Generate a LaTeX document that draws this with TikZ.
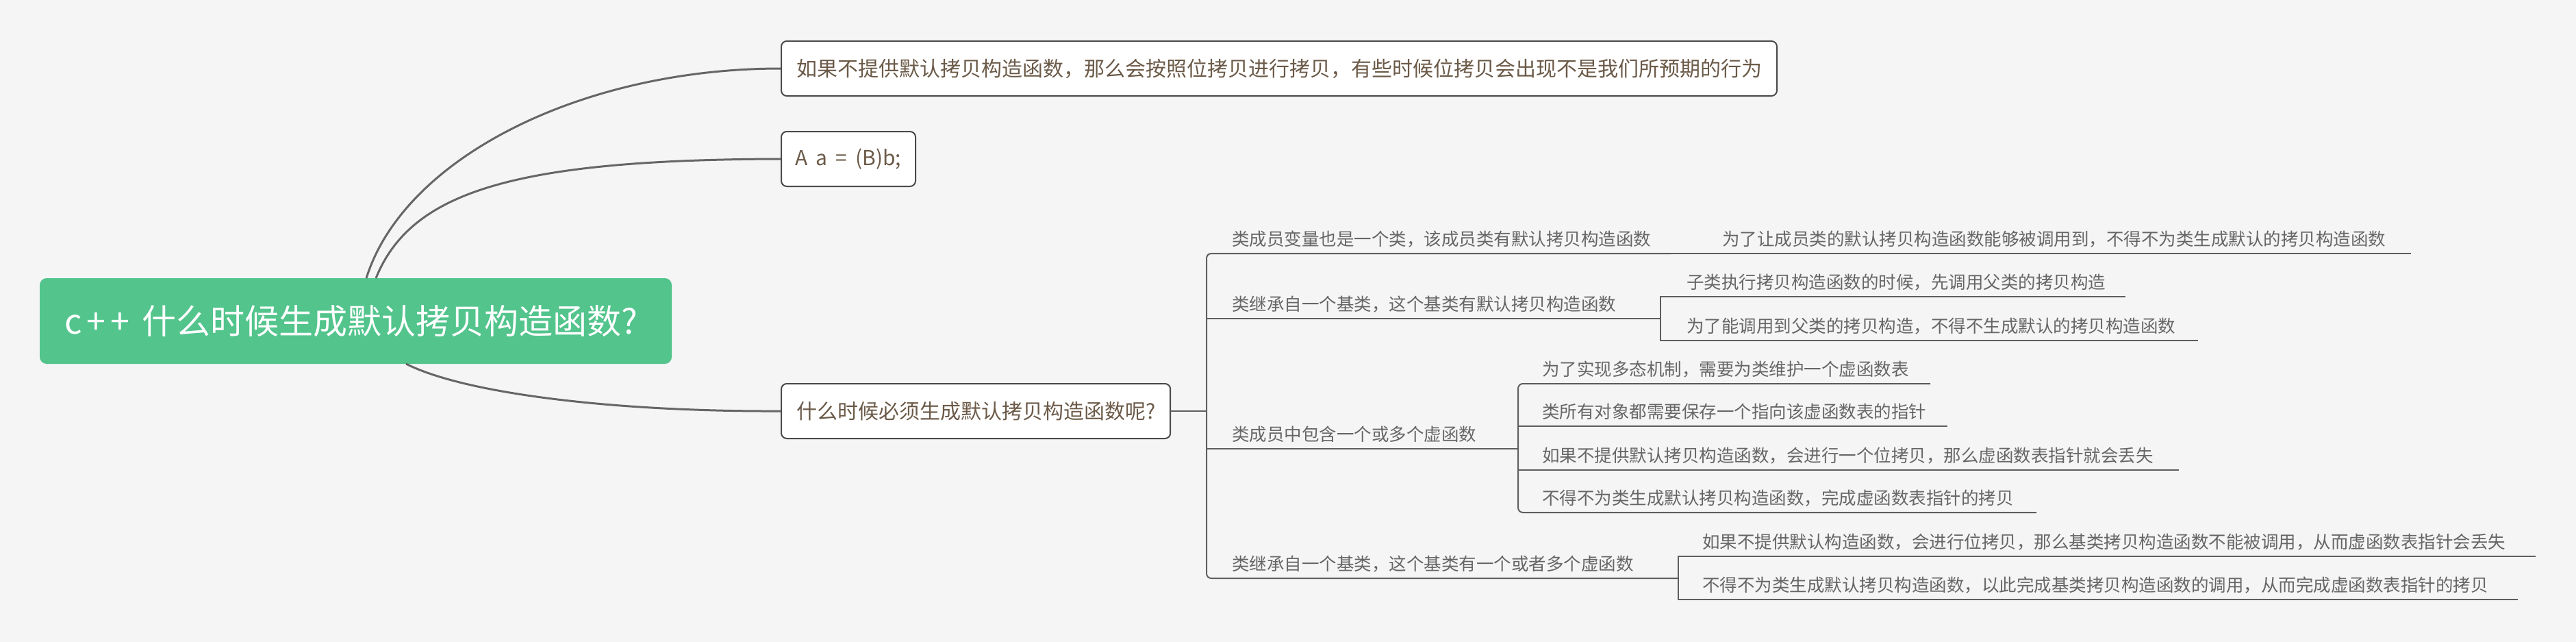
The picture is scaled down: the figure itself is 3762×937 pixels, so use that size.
\documentclass[tikz,border=0pt]{standalone}
\usepackage{fontspec}
\setmainfont{Noto Sans CJK SC}
\definecolor{bgc}{HTML}{F5F5F5}
\definecolor{linec}{HTML}{5E5E5E}
\definecolor{curvec}{HTML}{666666}
\definecolor{itemc}{HTML}{666666}
\definecolor{boxtc}{HTML}{6B5A48}
\definecolor{boxbc}{HTML}{4A4A4A}
\definecolor{rootc}{HTML}{52C48C}
\tikzset{
  rootbox/.style={fill=rootc, rounded corners=10pt, text=white, minimum width=923pt, minimum height=125pt, inner sep=0pt, font=\fontsize{50}{58}\selectfont},
  topicbox/.style={draw=boxbc, line width=2pt, fill=white, rounded corners=8pt, text=boxtc, inner xsep=22pt, inner ysep=0pt, minimum height=80pt, anchor=west, font=\fontsize{30}{36}\selectfont},
  itemtext/.style={inner sep=0pt, anchor=base west, text=itemc, font=\fontsize{25.5}{30}\selectfont},
  curve/.style={draw=curvec, line width=3pt},
  ul/.style={draw=linec, line width=2pt},
}
\begin{document}
\begin{tikzpicture}[x=1pt,y=-1pt]
\useasboundingbox (0,0) rectangle (3762,937);
\fill[bgc] (0,0) rectangle (3762,937);

% root and first-level topics
\node[rootbox] (root) at (519.5,468.5) {c\kern7pt+\kern7pt+\kern18pt 什么时候生成默认拷贝构造函数?\kern14pt};
\node[topicbox] (t1) at (1140,100) {如果不提供默认拷贝构造函数，那么会按照位拷贝进行拷贝，有些时候位拷贝会出现不是我们所预期的行为};
\node[topicbox, inner xsep=0pt, minimum width=196pt] (t2) at (1140,232) {A\hspace{12pt}a\hspace{12pt}=\hspace{12pt}(B)b;};
\node[topicbox] (t3) at (1140,600) {什么时候必须生成默认拷贝构造函数呢?};

\coordinate (r1) at (535,406);
\coordinate (r2) at (549,406);
\coordinate (r3) at (593,531);
\draw[curve] (r1) .. controls (590,230) and (850,100) .. (t1.west);
\draw[curve] (r2) .. controls (600,280) and (750,233) .. (t2.west);
\draw[curve] (r3) .. controls (680,575) and (900,601) .. (t3.west);

% second level
\node[itemtext] (a) at (1799,358) {类成员变量也是一个类，该成员类有默认拷贝构造函数};
\node[itemtext] (b) at (1799,453) {类继承自一个基类，这个基类有默认拷贝构造函数};
\node[itemtext] (c) at (1799,643) {类成员中包含一个或多个虚函数};
\node[itemtext] (d) at (1799,832) {类继承自一个基类，这个基类有一个或者多个虚函数};

% third level
\node[itemtext] (a1) at (2515,358) {为了让成员类的默认拷贝构造函数能够被调用到，不得不为类生成默认的拷贝构造函数};
\node[itemtext] (b1) at (2463,421) {子类执行拷贝构造函数的时候，先调用父类的拷贝构造};
\node[itemtext] (b2) at (2463,485) {为了能调用到父类的拷贝构造，不得不生成默认的拷贝构造函数};
\node[itemtext] (c1) at (2252,548) {为了实现多态机制，需要为类维护一个虚函数表};
\node[itemtext] (c2) at (2252,610) {类所有对象都需要保存一个指向该虚函数表的指针};
\node[itemtext] (c3) at (2252,674) {如果不提供默认拷贝构造函数，会进行一个位拷贝，那么虚函数表指针就会丢失};
\node[itemtext] (c4) at (2252,736) {不得不为类生成默认拷贝构造函数，完成虚函数表指针的拷贝};
\node[itemtext] (d1) at (2486,800) {如果不提供默认构造函数，会进行位拷贝，那么基类拷贝构造函数不能被调用，从而虚函数表指针会丢失};
\node[itemtext] (d2) at (2486,863) {不得不为类生成默认拷贝构造函数，以此完成基类拷贝构造函数的调用，从而完成虚函数表指针的拷贝};

% underline / bracket coordinates
\coordinate (barT) at (1762,370);
\coordinate (barB) at (1762,844);
\coordinate (barM) at (1762,600);
\coordinate (bL) at (1762,465);
\coordinate (cL) at (1762,655);
\coordinate (aR) at (2440,370);
\coordinate (a1R) at (3521,370);
\coordinate (bJ) at (2425,465);
\coordinate (bT) at (2425,433);
\coordinate (bB) at (2425,497);
\coordinate (b1R) at (3104,433);
\coordinate (b2R) at (3210,497);
\coordinate (cJ) at (2217,655);
\coordinate (cT) at (2217,560);
\coordinate (cB) at (2217,748);
\coordinate (c1R) at (2819,560);
\coordinate (c2L) at (2217,622);
\coordinate (c2R) at (2844,622);
\coordinate (c3L) at (2217,686);
\coordinate (c3R) at (3182,686);
\coordinate (c4R) at (2974,748);
\coordinate (dJ) at (2451,844);
\coordinate (dT) at (2451,812);
\coordinate (dB) at (2451,875);
\coordinate (d1R) at (3703,812);
\coordinate (d2R) at (3677,875);

% connectors
\draw[ul] (t3.east) -- (barM);
\draw[ul, rounded corners=7pt] (aR) -- (barT) -- (barB) -- (dJ);
\draw[ul] (bL) -- (bJ);
\draw[ul] (cL) -- (cJ);
\draw[ul] (aR) -- (a1R);
\draw[ul] (b1R) -- (bT) -- (bB) -- (b2R);
\draw[ul, rounded corners=7pt] (c1R) -- (cT) -- (cB) -- (c4R);
\draw[ul] (c2L) -- (c2R);
\draw[ul] (c3L) -- (c3R);
\draw[ul] (d1R) -- (dT) -- (dB) -- (d2R);
\end{tikzpicture}
\end{document}
